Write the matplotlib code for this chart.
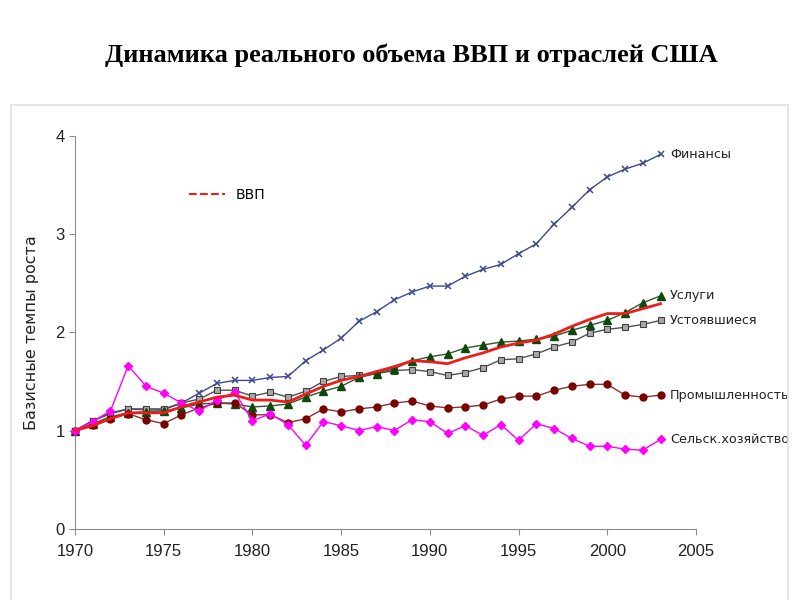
import matplotlib
matplotlib.use('Agg')
import matplotlib.pyplot as plt
from matplotlib.lines import Line2D

plt.rcParams['font.family'] = ['DejaVu Sans']

years = list(range(1970, 2004))

# базисные темпы роста (1970 = 1)
finance = [1.00, 1.10, 1.18, 1.22, 1.21, 1.21, 1.28, 1.38, 1.48, 1.51, 1.51, 1.54,
           1.55, 1.71, 1.82, 1.94, 2.11, 2.21, 2.33, 2.41, 2.47, 2.47, 2.57, 2.64,
           2.69, 2.80, 2.90, 3.10, 3.27, 3.45, 3.58, 3.66, 3.72, 3.81]
services = [1.00, 1.07, 1.14, 1.18, 1.19, 1.20, 1.23, 1.27, 1.28, 1.27, 1.24, 1.25,
            1.27, 1.34, 1.40, 1.45, 1.54, 1.58, 1.63, 1.71, 1.75, 1.78, 1.84, 1.87,
            1.90, 1.91, 1.93, 1.96, 2.02, 2.07, 2.12, 2.20, 2.30, 2.37]
established = [1.00, 1.10, 1.17, 1.22, 1.22, 1.22, 1.28, 1.32, 1.41, 1.41, 1.35, 1.39,
               1.34, 1.40, 1.50, 1.55, 1.56, 1.58, 1.61, 1.62, 1.60, 1.56, 1.59, 1.64,
               1.72, 1.73, 1.78, 1.85, 1.90, 1.99, 2.03, 2.05, 2.08, 2.12]
industry = [1.00, 1.06, 1.12, 1.17, 1.11, 1.07, 1.16, 1.23, 1.28, 1.28, 1.16, 1.16,
            1.08, 1.12, 1.22, 1.19, 1.22, 1.24, 1.28, 1.30, 1.25, 1.23, 1.24, 1.26,
            1.32, 1.35, 1.35, 1.41, 1.45, 1.47, 1.47, 1.36, 1.34, 1.36]
agriculture = [1.00, 1.09, 1.20, 1.66, 1.45, 1.38, 1.28, 1.20, 1.31, 1.39, 1.10, 1.17,
               1.06, 0.85, 1.09, 1.05, 1.00, 1.04, 1.00, 1.11, 1.09, 0.97, 1.05, 0.95,
               1.06, 0.90, 1.07, 1.02, 0.92, 0.84, 0.84, 0.81, 0.80, 0.91]
gdp = [1.00, 1.05, 1.12, 1.18, 1.18, 1.18, 1.24, 1.29, 1.34, 1.36, 1.31, 1.31,
       1.29, 1.37, 1.45, 1.51, 1.55, 1.60, 1.65, 1.71, 1.70, 1.68, 1.74, 1.79,
       1.85, 1.89, 1.92, 1.98, 2.06, 2.13, 2.19, 2.19, 2.24, 2.29]

labels = ['Финансы', 'Услуги', 'Устоявшиеся', 'Промышленность', 'Сельск.хозяйство']

fig = plt.figure(figsize=(8, 6), dpi=100)

# светло-серая рамка под заголовком
frame_kw = dict(color='#e2e2e2', lw=1.2, transform=fig.transFigure)
fig.add_artist(Line2D([11 / 800, 788 / 800], [1 - 105 / 600, 1 - 105 / 600], **frame_kw))
fig.add_artist(Line2D([788 / 800, 788 / 800], [1 - 105 / 600, 0], **frame_kw))
fig.add_artist(Line2D([11 / 800, 11 / 800], [1 - 105 / 600, 0], **frame_kw))

fig.text(0.514, 0.908, 'Динамика реального объема ВВП и отраслей США',
         family='Liberation Serif', weight='bold', fontsize=19,
         ha='center', va='center', color='black')

ax = fig.add_axes([75 / 800, 1 - 528.8 / 600, 621 / 800, 393.1 / 600])

ax.plot(years, finance, color='#3b4a8e', lw=1, marker='x', ms=5, mew=1.1,
        clip_on=False, zorder=3)
ax.plot(years, established, color='#505050', lw=1, marker='s', ms=5,
        mfc='#a8a8a8', mec='#404040', mew=0.8, clip_on=False, zorder=3)
ax.plot(years, services, color='#2e5a2e', lw=1, marker='^', ms=6,
        mfc='#0c4a0c', mec='#0c4a0c', clip_on=False, zorder=3)
ax.plot(years, industry, color='#8a3030', lw=1, marker='o', ms=5,
        mfc='#7a0000', mec='#7a0000', clip_on=False, zorder=3)
ax.plot(years, agriculture, color='#ff00ff', lw=1, marker='D', ms=4.5,
        mfc='#ff00ff', mec='#ff00ff', clip_on=False, zorder=3)
ax.plot(years, gdp, color='#ee1c1c', lw=2, clip_on=False, zorder=4)

for name, series in zip(labels, [finance, services, established, industry, agriculture]):
    ax.annotate(name, (years[-1], series[-1]), xytext=(7, 0), textcoords='offset points',
                va='center', ha='left', fontsize=9.2, color='#222222',
                annotation_clip=False)

ax.legend(handles=[Line2D([0], [0], color='#ee1c1c', ls='--', lw=1.5)], labels=['ВВП'],
          loc='center left', bbox_to_anchor=(0.183, 0.849), frameon=False,
          borderaxespad=0, borderpad=0, handlelength=2.6, handletextpad=0.8,
          fontsize=10)

ax.set_xlim(1970, 2005)
ax.set_ylim(0, 4)
ax.set_xticks(range(1970, 2006, 5))
ax.set_yticks([0, 1, 2, 3, 4])
ax.set_ylabel('Базисные темпы роста', fontsize=11.5, color='#222222', labelpad=12)

for s in ['top', 'right']:
    ax.spines[s].set_visible(False)
for s in ['left', 'bottom']:
    ax.spines[s].set_color('#8c8c8c')
ax.tick_params(colors='#8c8c8c', labelcolor='#222222', length=4)
ax.tick_params(axis='x', pad=7)
for t in ax.get_xticklabels() + ax.get_yticklabels():
    t.set_family(['Liberation Sans Narrow', 'Liberation Sans'])
    t.set_fontsize(12)

fig.savefig('out.png', dpi=100)
